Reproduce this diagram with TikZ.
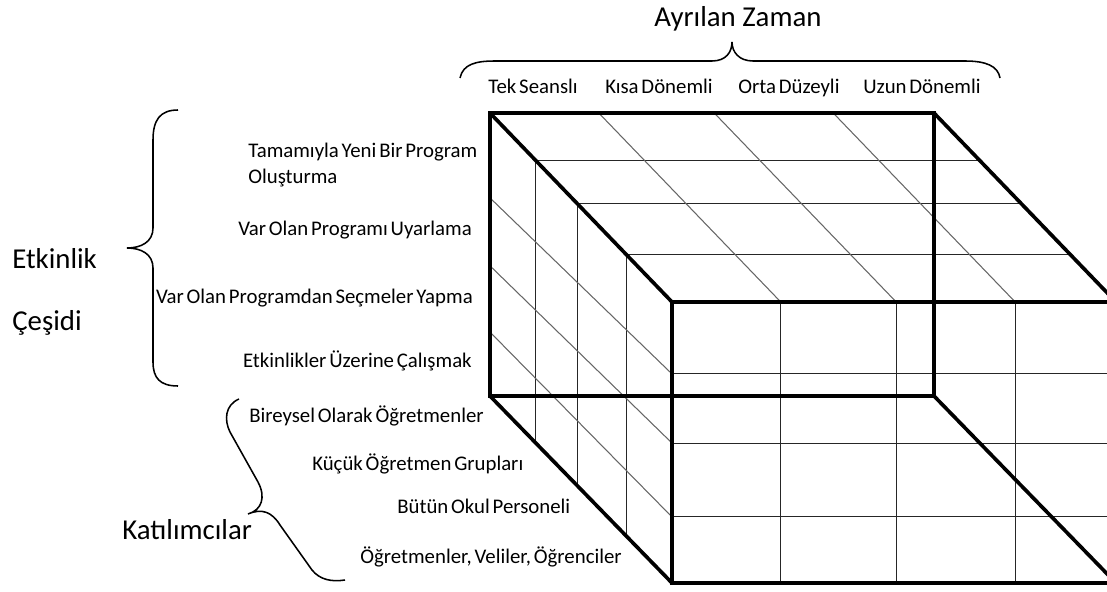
\documentclass[tikz,border=0pt]{standalone}
\usepackage{fontspec}
\setmainfont{Carlito}[WordSpace=0.6]
\newfontfamily\titlefont{Carlito}
\usepackage{tikz}
\usetikzlibrary{calc}
\definecolor{edgecolor}{HTML}{000000}
\colorlet{gridcolor}{black!85}
\colorlet{slantcolor}{black!60}
\tikzstyle{cubeedge} = [
    draw=edgecolor,
    line width=2.6pt,
    line join=miter
    ]
\tikzstyle{gridline} = [draw=gridcolor, line width=0.75pt]
\tikzstyle{slantline} = [draw=slantcolor, line width=0.75pt]
\tikzstyle{bracecurve} = [draw=black, line width=1.1pt]
\tikzstyle{itemlabel} = [
    inner sep=0pt,
    font=\fontsize{14.8}{17}\selectfont
    ]
\tikzstyle{axistitle} = [
    inner sep=0pt,
    font=\titlefont\fontsize{20.5}{24}\selectfont
    ]

\begin{document}
\begin{tikzpicture}[x=0.025cm, y=-0.025cm]
\useasboundingbox (0,0) rectangle (1107,592);
\clip (0,0) rectangle (1107,592);

% corners of the cube (back face, front face)
\coordinate (btl) at (490,113);
\coordinate (btr) at (934,113);
\coordinate (bbl) at (490,396);
\coordinate (bbr) at (934,396);
\coordinate (ftl) at (672,302);
\coordinate (ftr) at (1116,302);
\coordinate (fbl) at (672,583);
\coordinate (fbr) at (1116,583);

% grid
\foreach \d in {0.25,0.48,0.75}{
    \draw[gridline] ($(btl)!\d!(ftl)$) -- ($(btr)!\d!(ftr)$);
    \draw[gridline] ($(btl)!\d!(ftl)$) -- ($(bbl)!\d!(fbl)$);
}
\foreach \w in {0.245,0.505,0.773}{
    \draw[slantline] ($(btl)!\w!(btr)$) -- ($(ftl)!\w!(ftr)$);
    \draw[gridline] ($(ftl)!\w!(ftr)$) -- ($(fbl)!\w!(fbr)$);
}
\foreach \hb/\hf in {0.30/0.256, 0.54/0.502, 0.774/0.765}{
    \draw[slantline] ($(btl)!\hb!(bbl)$) -- ($(ftl)!\hf!(fbl)$);
    \draw[gridline] ($(ftl)!\hf!(fbl)$) -- ($(ftr)!\hf!(fbr)$);
}

% outline
\draw[cubeedge] (btl) rectangle (bbr);
\draw[cubeedge] (ftl) rectangle (fbr);
\draw[cubeedge] (btl) -- (ftl) (btr) -- (ftr) (bbl) -- (fbl) (bbr) -- (fbr);

% braces
\draw[bracecurve] (460,78) .. controls (463,64) and (476,61) .. (495,61)
    -- (712,61) .. controls (726,61) and (732,52) .. (732,42)
    .. controls (732,52) and (739,61) .. (753,61)
    -- (965,61) .. controls (986,61) and (998,66) .. (1000,78);
\draw[bracecurve] (178,110) .. controls (160,110) and (153,120) .. (153,140)
    -- (153,228) .. controls (153,242) and (141,248) .. (127,248)
    .. controls (141,248) and (153,254) .. (153,268)
    -- (153,362) .. controls (153,378) and (160,386) .. (178,386);
\draw[bracecurve] (239,399) .. controls (225,405) and (224,420) .. (230,432)
    -- (258,482) .. controls (266,497) and (262,510) .. (248,514)
    .. controls (262,508) and (272,512) .. (280,525)
    -- (312,570) .. controls (320,580) and (332,582) .. (345,580);

% titles
\node[axistitle, anchor=base] (zaman) at (738,27) {Ayrılan Zaman};
\node[axistitle, anchor=base west] (etkinlik) at (12,268) {Etkinlik};
\node[axistitle, anchor=base west] (cesidi) at (12,330) {Çeşidi};
\node[axistitle, anchor=base west] (katilim) at (122,539) {Katılımcılar};

% time
\node[itemlabel, anchor=base west] (tek) at (488,93) {Tek Seanslı};
\node[itemlabel, anchor=base west] (kisa) at (605,93) {Kısa Dönemli};
\node[itemlabel, anchor=base west] (orta) at (738,93) {Orta Düzeyli};
\node[itemlabel, anchor=base west] (uzun) at (863,93) {Uzun Dönemli};

% activity
\node[itemlabel, anchor=base west] (yeni) at (248,157) {Tamamıyla Yeni Bir Program};
\node[itemlabel, anchor=base west] (olus) at (248,183) {Oluşturma};
\node[itemlabel, anchor=base east] (uyar) at (472,235) {Var Olan Programı Uyarlama};
\node[itemlabel, anchor=base east] (secme) at (473,303) {Var Olan Programdan Seçmeler Yapma};
\node[itemlabel, anchor=base east] (calis) at (472,367) {Etkinlikler Üzerine Çalışmak};

% participants
\node[itemlabel, anchor=base west] (birey) at (249,422) {Bireysel Olarak Öğretmenler};
\node[itemlabel, anchor=base west] (kucuk) at (312,470) {Küçük Öğretmen Grupları};
\node[itemlabel, anchor=base west] (okul) at (397,513) {Bütün Okul Personeli};
\node[itemlabel, anchor=base west] (veli) at (360,563) {Öğretmenler, Veliler, Öğrenciler};
\end{tikzpicture}
\end{document}
